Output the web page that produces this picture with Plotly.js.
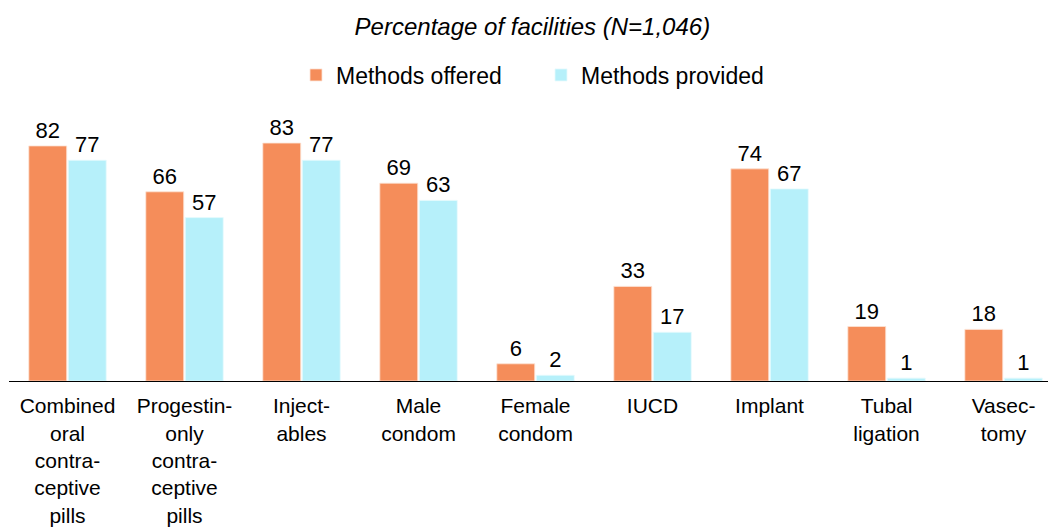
<!DOCTYPE html>
<html>
<head>
<meta charset="utf-8">
<script src="https://cdn.plot.ly/plotly-3.0.1.min.js"></script>
<style>html,body{margin:0;padding:0;background:#fff;}#chart{width:1048px;height:531px;}</style>
</head>
<body>
<div id="chart"></div>
<script>
const categories = [
  "Combined<br>oral<br>contra-<br>ceptive<br>pills",
  "Progestin-<br>only<br>contra-<br>ceptive<br>pills",
  "Inject-<br>ables",
  "Male<br>condom",
  "Female<br>condom",
  "IUCD",
  "Implant",
  "Tubal<br>ligation",
  "Vasec-<br>tomy"
];
const methodsOffered = [82, 66, 83, 69, 6, 33, 74, 19, 18];
const methodsProvided = [77, 57, 77, 63, 2, 17, 67, 1, 1];
const seriesNames = ["Methods offered", "Methods provided"];

const FONT = "Liberation Sans, Arial, sans-serif";

const traces = [
  {
    type: "bar", name: seriesNames[0], x: categories, y: methodsOffered,
    marker: {color: "#F58D5A", line: {color: "#FDE3D6", width: 0.8}},
    text: methodsOffered.map(String), textposition: "outside", cliponaxis: false,
    textfont: {family: FONT, size: 22, color: "#000"}, hoverinfo: "none"
  },
  {
    type: "bar", name: seriesNames[1], x: categories, y: methodsProvided,
    marker: {color: "#B6F0FA", line: {color: "#E6FAFD", width: 0.8}},
    text: methodsProvided.map(String), textposition: "outside", cliponaxis: false,
    textfont: {family: FONT, size: 22, color: "#000"}, hoverinfo: "none"
  }
];

const layout = {
  width: 1048, height: 531,
  margin: {l: 9, r: 0, t: 123, b: 150, pad: 0},
  paper_bgcolor: "#fff", plot_bgcolor: "#fff",
  font: {family: FONT, size: 22, color: "#000"},
  title: {
    text: "Percentage of facilities (N=1,046)",
    font: {family: FONT, size: 24, style: "italic", color: "#000"},
    x: 0.508, xref: "container", xanchor: "center",
    y: 1 - 27/531, yref: "container", yanchor: "middle"
  },
  showlegend: true,
  legend: {
    orientation: "h", xref: "container", yref: "container",
    x: 296/1048, xanchor: "left", y: 1 - 75/531, yanchor: "middle",
    entrywidth: 200, entrywidthmode: "pixels",
    font: {family: FONT, size: 23, color: "#000"},
    itemclick: false, traceorder: "normal"
  },
  barmode: "group", bargap: 0.325, bargroupgap: 0.04,
  xaxis: {
    type: "category", range: [-0.5, 8.38], showline: true, linecolor: "#000", linewidth: 1.2,
    ticks: "", showgrid: false, zeroline: false, tickangle: 0, ticklabelstandoff: 6,
    tickfont: {family: FONT, size: 21, color: "#000"}, fixedrange: true
  },
  yaxis: {
    range: [0, 90], visible: false, showgrid: false, zeroline: false, fixedrange: true
  }
};

Plotly.newPlot("chart", traces, layout, {displayModeBar: false, staticPlot: true});
</script>
</body>
</html>
